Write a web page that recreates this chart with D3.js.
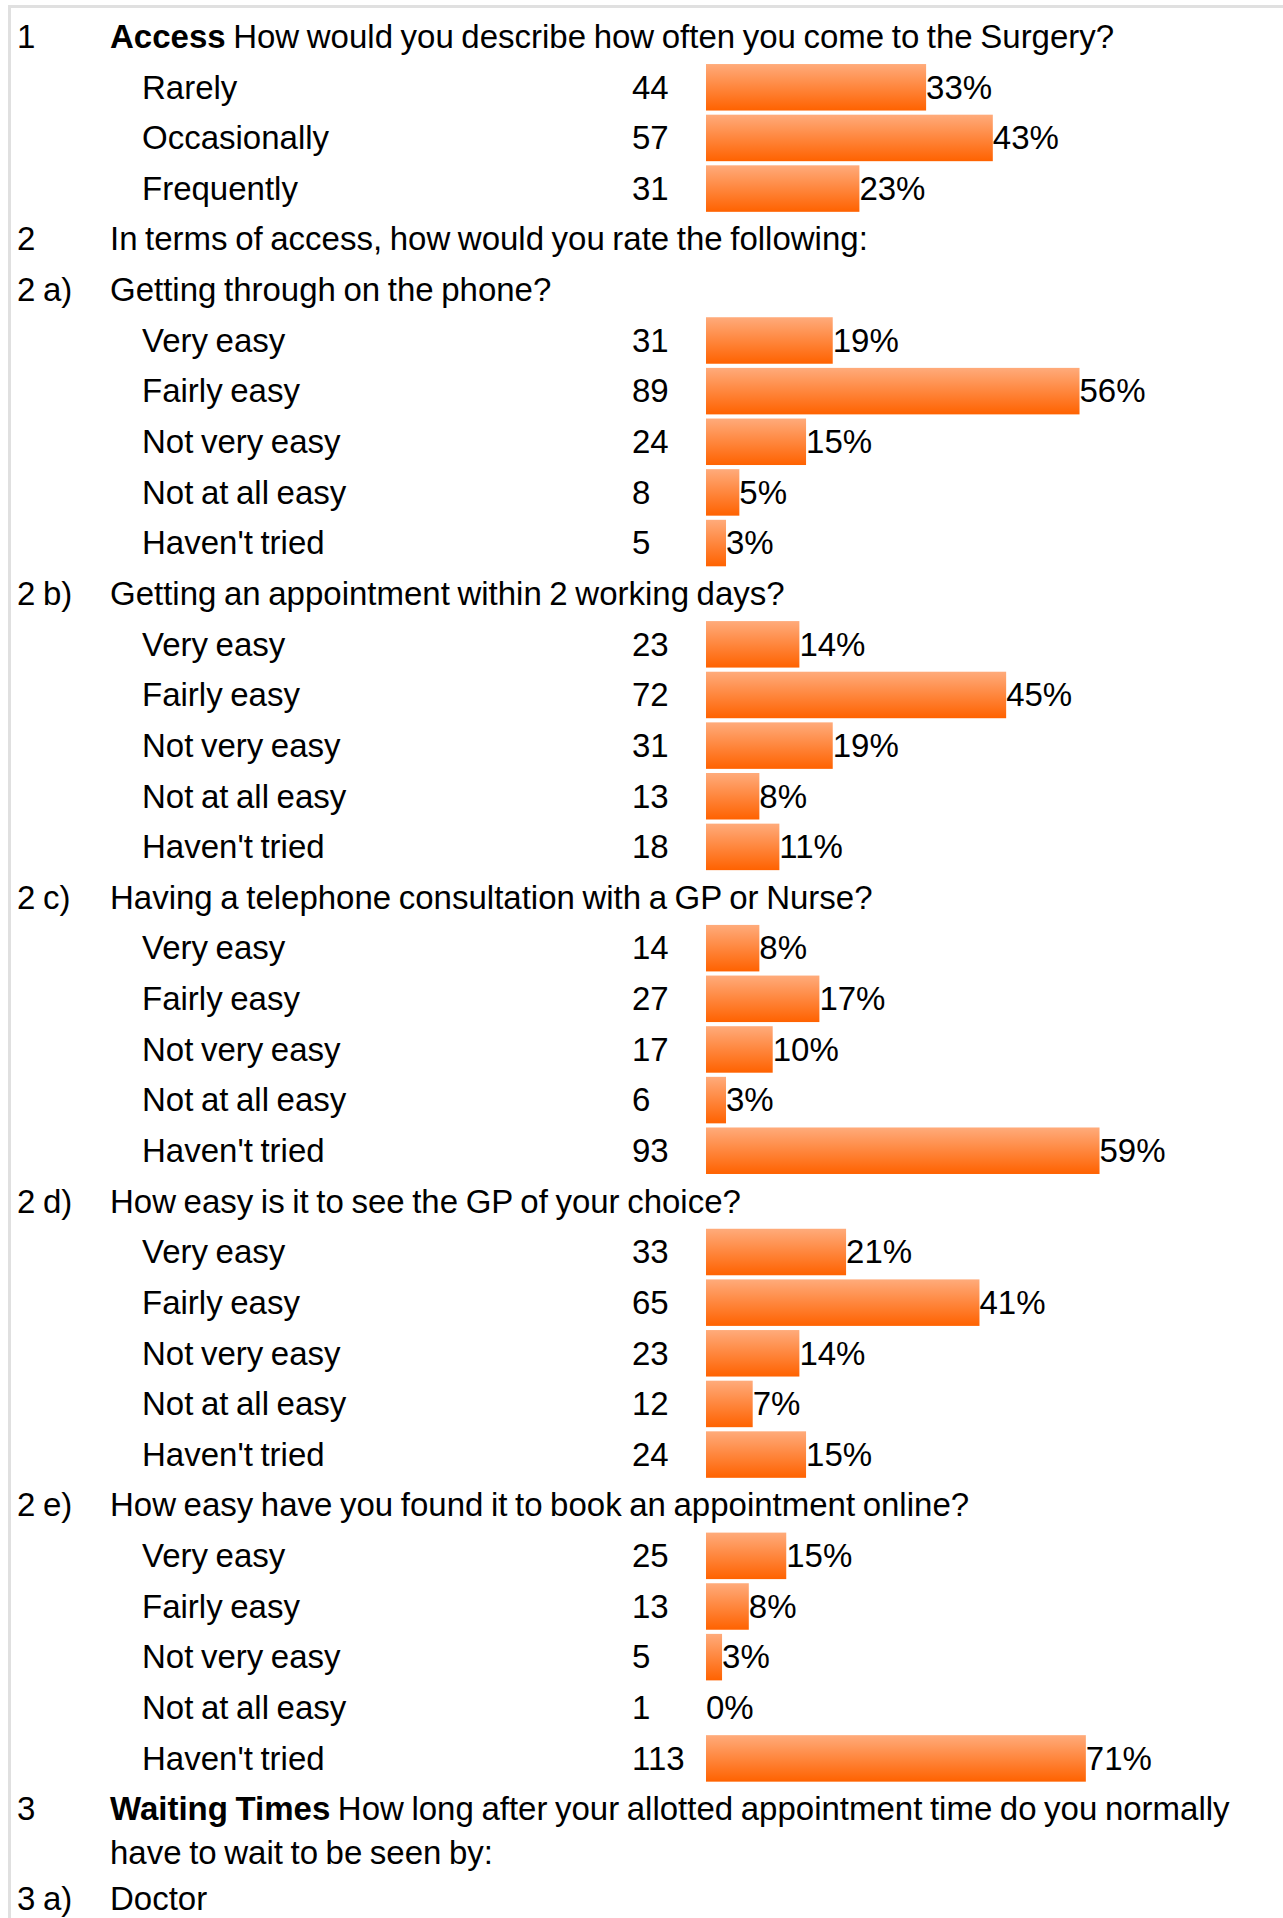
<!DOCTYPE html>
<html>
<head>
<meta charset="utf-8">
<script src="https://cdn.jsdelivr.net/npm/d3@7"></script>
<style>
  html, body { margin: 0; padding: 0; background: #ffffff; }
  svg text { font-family: "Liberation Sans", Arial, sans-serif; fill: #000; word-spacing: -1.6px; }
</style>
</head>
<body>
<div id="chart"></div>
<script>
// ---------------- DATA ----------------
const q1Options = ["Rarely", "Occasionally", "Frequently"];
const q1Counts  = [44, 57, 31];
const q1Pct     = [33, 43, 23];

const easeOptions = ["Very easy", "Fairly easy", "Not very easy", "Not at all easy", "Haven't tried"];

const q2aCounts = [31, 89, 24, 8, 5];
const q2aPct    = [19, 56, 15, 5, 3];

const q2bCounts = [23, 72, 31, 13, 18];
const q2bPct    = [14, 45, 19, 8, 11];

const q2cCounts = [14, 27, 17, 6, 93];
const q2cPct    = [8, 17, 10, 3, 59];

const q2dCounts = [33, 65, 23, 12, 24];
const q2dPct    = [21, 41, 14, 7, 15];

const q2eCounts = [25, 13, 5, 1, 113];
const q2ePct    = [15, 8, 3, 0, 71];

const headings = [
  {num: "1",    bold: "Access",        text: "How would you describe how often you come to the Surgery?"},
  {num: "2",    bold: "",              text: "In terms of access, how would you rate the following:"},
  {num: "2 a)", bold: "",              text: "Getting through on the phone?"},
  {num: "2 b)", bold: "",              text: "Getting an appointment within 2 working days?"},
  {num: "2 c)", bold: "",              text: "Having a telephone consultation with a GP or Nurse?"},
  {num: "2 d)", bold: "",              text: "How easy is it to see the GP of your choice?"},
  {num: "2 e)", bold: "",              text: "How easy have you found it to book an appointment online?"},
  {num: "3",    bold: "Waiting Times", text: "How long after your allotted appointment time do you normally", cont: "have to wait to be seen by:"},
  {num: "3 a)", bold: "",              text: "Doctor"}
];

// ---------------- LAYOUT ----------------
const W = 1283, H = 1918;
const FONT = 33;
const ROW0_TOP = 13.4;   // bar top of row index 0
const PITCH = 50.64;
const BAR_H = 46.5;
const BASE_OFF = 34.5;   // baseline offset from row top
const X_NUM = 17, X_Q = 110, X_OPT = 142, X_COUNT = 632, X_BAR = 706;
const WRAP_GAP = 44, WRAP_EXTRA = 39;

// build row list
const rows = [];
function addHeading(h) { rows.push({type: "head", h}); }
function addGroup(opts, counts, pct, scaleKey) {
  opts.forEach((o, i) => rows.push({type: "opt", label: o, count: counts[i], pct: pct[i], scaleKey}));
}
addHeading(headings[0]); addGroup(q1Options, q1Counts, q1Pct, "std");
addHeading(headings[1]);
addHeading(headings[2]); addGroup(easeOptions, q2aCounts, q2aPct, "std");
addHeading(headings[3]); addGroup(easeOptions, q2bCounts, q2bPct, "std");
addHeading(headings[4]); addGroup(easeOptions, q2cCounts, q2cPct, "std");
addHeading(headings[5]); addGroup(easeOptions, q2dCounts, q2dPct, "std");
addHeading(headings[6]); addGroup(easeOptions, q2eCounts, q2ePct, "e");
addHeading(headings[7]);
addHeading(headings[8]);

const yRow = d3.scaleLinear().domain([0, 1]).range([ROW0_TOP, ROW0_TOP + PITCH]);
const xScales = {
  std: d3.scaleLinear().domain([0, 100]).range([X_BAR, X_BAR + 667]),
  e:   d3.scaleLinear().domain([0, 100]).range([X_BAR, X_BAR + 535])
};

// row tops (the wrapped heading takes extra room)
let extra = 0;
rows.forEach((r, i) => {
  r.top = yRow(i) + extra;
  if (r.type === "head" && r.h.cont) extra += WRAP_EXTRA;
});

const svg = d3.select("#chart").append("svg")
  .attr("width", W).attr("height", H)
  .style("display", "block");

svg.append("rect").attr("width", W).attr("height", H).attr("fill", "#fff");

const defs = svg.append("defs");
const grad = defs.append("linearGradient").attr("id", "barGrad")
  .attr("x1", 0).attr("y1", 0).attr("x2", 0).attr("y2", 1);
grad.append("stop").attr("offset", "0%").attr("stop-color", "#FFAB7B");
grad.append("stop").attr("offset", "100%").attr("stop-color", "#FF6200");

// frame lines
svg.append("rect").attr("x", 8).attr("y", 5).attr("width", W - 8).attr("height", 3).attr("fill", "#e0e0e0");
svg.append("rect").attr("x", 8).attr("y", 5).attr("width", 3).attr("height", H - 5).attr("fill", "#e0e0e0");

const g = svg.append("g").style("font-size", FONT + "px");

rows.forEach(r => {
  const base = r.top + BASE_OFF;
  if (r.type === "head") {
    g.append("text").attr("x", X_NUM).attr("y", base).text(r.h.num);
    const t = g.append("text").attr("x", X_Q).attr("y", base);
    if (r.h.bold) {
      t.append("tspan").attr("font-weight", "bold").text(r.h.bold);
      t.append("tspan").text(" " + r.h.text);
    } else {
      t.text(r.h.text);
    }
    if (r.h.cont) {
      g.append("text").attr("x", X_Q).attr("y", base + WRAP_GAP).text(r.h.cont);
    }
  } else {
    const xs = xScales[r.scaleKey];
    g.append("text").attr("x", X_OPT).attr("y", base).text(r.label);
    g.append("text").attr("x", X_COUNT).attr("y", base).text(r.count);
    const w = xs(r.pct) - xs(0);
    if (w > 0) {
      g.append("rect").attr("x", xs(0)).attr("y", r.top).attr("width", w)
        .attr("height", BAR_H).attr("fill", "url(#barGrad)");
    }
    g.append("text").attr("x", xs(r.pct)).attr("y", base).text(r.pct + "%");
  }
});
</script>
</body>
</html>
